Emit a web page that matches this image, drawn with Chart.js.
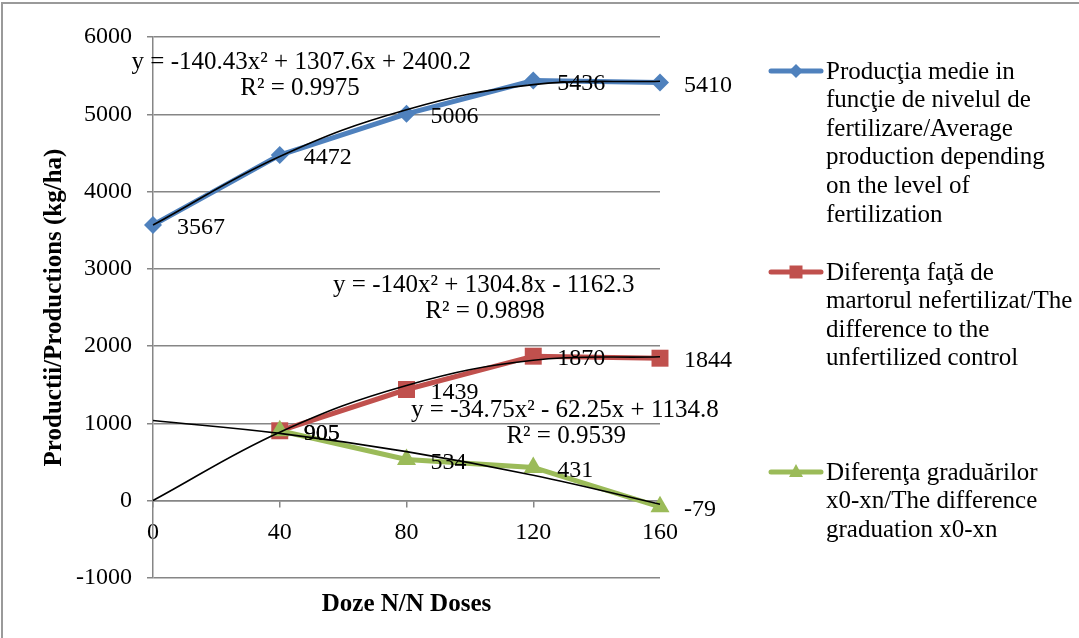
<!DOCTYPE html>
<html>
<head>
<meta charset="utf-8">
<title>Productii / Productions</title>
<script src="https://cdn.jsdelivr.net/npm/chart.js@4.4.1/dist/chart.umd.min.js"></script>
<style>
    body { margin: 0; background: #fff; }
    #wrap { width: 1079px; height: 638px; }
</style>
</head>
<body>
<div id="wrap"><canvas id="prod-chart" width="1079" height="638"></canvas></div>
<script>
// N doses (kg/ha)
const doses = ['0', '40', '80', '120', '160'];

// measured series
const avgProduction = [3567, 4472, 5006, 5436, 5410];
const diffControl = [null, 905, 1439, 1870, 1844];
const diffGraduation = [null, 905, 534, 431, -79];

// polynomial trend lines, read at each dose
const avgTrend = [3567, 4454, 5059, 5384, 5427];
const controlTrend = [3, 887, 1492, 1817, 1862];
const graduationTrend = [1038, 871, 635, 330, -45];

const yTicks = { min: -1000, max: 6000, step: 1000 };

// trend equations: [text, category position, value position]
const equations = [
    ['y = -140.43x² + 1307.6x + 2400.2', 1.17, 5676],
    ['R² = 0.9975', 1.16, 5340],
    ['y = -140x² + 1304.8x - 1162.3', 2.61, 2791],
    ['R² = 0.9898', 2.62, 2454],
    ['y = -34.75x² - 62.25x + 1134.8', 3.25, 1173],
    ['R² = 0.9539', 3.26, 837]
];

const legendItems = [
    { color: '#4F81BD', shape: 'diamond', lines: ['Producţia medie in', 'funcţie de nivelul de', 'fertilizare/Average', 'production depending', 'on the level of', 'fertilization'] },
    { color: '#C0504D', shape: 'square', lines: ['Diferenţa faţă de', 'martorul nefertilizat/The', 'difference to the', 'unfertilized control'] },
    { color: '#9BBB59', shape: 'triangle', lines: ['Diferenţa graduărilor', 'x0-xn/The difference', 'graduation x0-xn'] }
];

const SERIF = "'Liberation Serif', 'Times New Roman', serif";
const gridGray = '#868686';

// value labels next to each marker, plus the trend equations
const valueLabels = {
    id: 'valueLabels',
    afterDatasetsDraw(chart) {
        const ctx = chart.ctx;
        ctx.save();
        ctx.font = '24px ' + SERIF;
        ctx.fillStyle = '#000';
        ctx.textAlign = 'left';
        ctx.textBaseline = 'middle';
        chart.data.datasets.forEach((ds, i) => {
            if (ds.isTrend) return;
            chart.getDatasetMeta(i).data.forEach((pt, j) => {
                const v = ds.data[j];
                if (v === null) return;
                ctx.fillText(String(v), pt.x + 24, pt.y + 3);
            });
        });

        const xs = chart.scales.x, ys = chart.scales.y;
        ctx.font = '25px ' + SERIF;
        ctx.textAlign = 'center';
        equations.forEach(eq => {
            ctx.fillText(eq[0], xs.getPixelForValue(eq[1]), ys.getPixelForValue(eq[2]));
        });
        ctx.restore();
    }
};

function drawMarker(ctx, shape, x, y) {
    ctx.beginPath();
    if (shape === 'diamond') {
        ctx.moveTo(x - 7, y); ctx.lineTo(x, y - 7); ctx.lineTo(x + 7, y); ctx.lineTo(x, y + 7);
    } else if (shape === 'square') {
        ctx.rect(x - 6.5, y - 6.5, 13, 13);
    } else {
        ctx.moveTo(x, y - 8); ctx.lineTo(x + 7, y + 5); ctx.lineTo(x - 7, y + 5);
    }
    ctx.closePath();
    ctx.fill();
}

// legend at the right and the frame
const sideLegend = {
    id: 'sideLegend',
    afterDraw(chart) {
        const ctx = chart.ctx;
        ctx.save();
        const tops = [71, 272, 472];
        legendItems.forEach((item, k) => {
            const y0 = tops[k];
            ctx.strokeStyle = item.color;
            ctx.fillStyle = item.color;
            ctx.lineWidth = 5;
            ctx.lineCap = 'round';
            ctx.beginPath();
            ctx.moveTo(771, y0);
            ctx.lineTo(821, y0);
            ctx.stroke();
            drawMarker(ctx, item.shape, 796, y0);

            ctx.fillStyle = '#000';
            ctx.font = '25px ' + SERIF;
            ctx.textAlign = 'left';
            ctx.textBaseline = 'middle';
            item.lines.forEach((line, n) => {
                ctx.fillText(line, 826, y0 + 1 + n * 28.6);
            });
        });

        ctx.strokeStyle = '#9a9a9a';
        ctx.lineWidth = 2;
        ctx.lineCap = 'butt';
        ctx.beginPath();
        ctx.moveTo(2, 638);
        ctx.lineTo(2, 3);
        ctx.lineTo(1079, 3);
        ctx.stroke();
        ctx.restore();
    }
};

function trendSet(data) {
    return {
        data: data,
        isTrend: true,
        borderColor: '#000',
        borderWidth: 1.6,
        pointRadius: 0,
        tension: 0.4,
        order: 0
    };
}

const ctx = document.getElementById('prod-chart').getContext('2d');
new Chart(ctx, {
    type: 'line',
    data: {
        labels: doses,
        datasets: [
            {
                label: 'Producţia medie',
                data: avgProduction,
                borderColor: '#4F81BD',
                backgroundColor: '#4F81BD',
                borderWidth: 5,
                pointStyle: 'rectRot',
                pointRadius: 9,
                pointBorderWidth: 0,
                tension: 0,
                order: 3
            },
            {
                label: 'Diferenţa faţă de martor',
                data: diffControl,
                borderColor: '#C0504D',
                backgroundColor: '#C0504D',
                borderWidth: 5,
                pointStyle: 'rect',
                pointRadius: 12,
                pointBorderWidth: 0,
                tension: 0,
                order: 2
            },
            {
                label: 'Diferenţa graduărilor',
                data: diffGraduation,
                borderColor: '#9BBB59',
                backgroundColor: '#9BBB59',
                borderWidth: 5,
                pointStyle: 'triangle',
                pointRadius: 11,
                pointBorderWidth: 0,
                tension: 0,
                order: 1
            },
            trendSet(avgTrend),
            trendSet(controlTrend),
            trendSet(graduationTrend)
        ]
    },
    options: {
        responsive: false,
        animation: false,
        layout: { padding: { top: 37, right: 419, left: 0, bottom: 0 } },
        plugins: {
            legend: { display: false },
            tooltip: { enabled: false }
        },
        scales: {
            x: {
                position: { y: 0 },
                ticks: { color: '#000', font: { family: SERIF, size: 24 }, padding: 12, maxRotation: 0 },
                grid: { drawOnChartArea: false, color: gridGray, tickLength: 6, lineWidth: 1.5 },
                border: { color: gridGray, width: 1.5 }
            },
            x2: {
                type: 'category',
                labels: doses,
                position: 'bottom',
                ticks: { display: false },
                grid: { display: false },
                border: { display: false },
                title: {
                    display: true,
                    text: 'Doze N/N Doses',
                    color: '#000',
                    font: { family: SERIF, size: 25, weight: 'bold' },
                    padding: { top: 0, bottom: 18 }
                },
                afterFit(scale) { scale.height = 60; }
            },
            y: {
                min: yTicks.min,
                max: yTicks.max,
                ticks: {
                    stepSize: yTicks.step,
                    color: '#000',
                    font: { family: SERIF, size: 24 },
                    padding: 15,
                    callback: v => String(v)
                },
                grid: { color: gridGray, tickLength: 6, lineWidth: 1.5 },
                border: { color: gridGray, width: 1.5 },
                title: {
                    display: true,
                    text: 'Productii/Productions (kg/ha)',
                    color: '#000',
                    font: { family: SERIF, size: 25, weight: 'bold' },
                    padding: { top: 40, bottom: 0 }
                },
                afterFit(scale) { scale.width = 153; }
            }
        }
    },
    plugins: [valueLabels, sideLegend]
});
</script>
</body>
</html>
